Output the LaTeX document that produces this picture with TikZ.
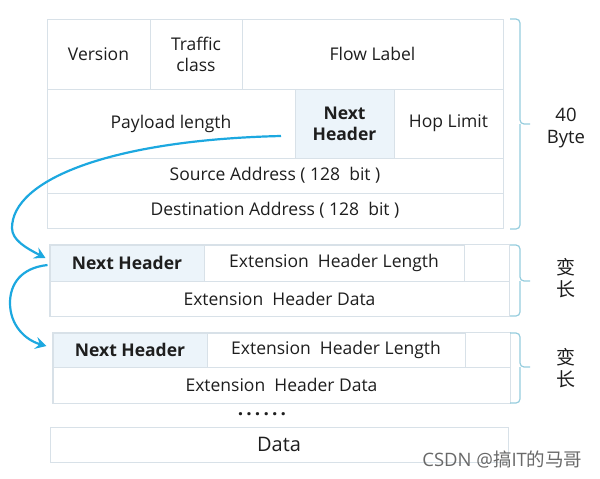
\documentclass[tikz,border=0pt]{standalone}
\usepackage{fontspec}
\setmainfont{Open Sans}
\newfontfamily\cjkfont{Noto Sans CJK SC}
\usetikzlibrary{arrows.meta,positioning,calc}
\definecolor{cellborder}{RGB}{216,225,232}
\definecolor{cellfill}{RGB}{236,244,250}
\definecolor{flowblue}{RGB}{28,168,224}
\definecolor{bracecolor}{RGB}{150,205,222}
\definecolor{textgray}{RGB}{30,30,30}
\definecolor{markgray}{RGB}{105,105,105}

\begin{document}
\begin{tikzpicture}[
    x=1pt, y=-1pt,
    every node/.style={align=center, text=textgray, font=\fontsize{17.5}{21}\selectfont},
    cell/.style={rectangle, draw=cellborder, line width=1pt, inner sep=0pt},
    nextcell/.style={cell, fill=cellfill, font=\fontsize{17.5}{21}\selectfont\bfseries},
    arrow/.style={line width=2.2pt, draw=flowblue, -{Stealth[length=11pt,width=12pt,inset=4pt]}},
    bracket/.style={draw=bracecolor, line width=1.2pt, rounded corners=4pt}
]
\useasboundingbox[fill=white] (0,0) rectangle (600,479);

% IPv6 basic header
\node[cell, minimum width=103pt, minimum height=70pt] (version) at (98.5,54) {Version};
\node[cell, minimum width=92pt, minimum height=70pt] (traffic) at (196,54) {Traffic\\class};
\node[cell, minimum width=261pt, minimum height=70pt] (flow) at (372.5,54) {Flow Label};
\node[cell, minimum width=248pt, minimum height=69pt] (payload) at (171,123.5) {Payload length};
\node[nextcell, minimum width=99pt, minimum height=69pt] (nexthdr) at (344.5,123.5) {Next\\Header};
\node[cell, minimum width=109pt, minimum height=69pt] (hop) at (448.5,123.5) {Hop Limit};
\node[cell, minimum width=456pt, minimum height=35pt] (src) at (275,175.5) {Source Address ( 128~~bit )};
\node[cell, minimum width=456pt, minimum height=35pt] (dst) at (275,210.5) {Destination Address ( 128~~bit )};

% Extension header 1
\node[nextcell, minimum width=154pt, minimum height=36pt] (nh1) at (127,263) {Next Header};
\node[cell, minimum width=260pt, minimum height=36pt] (len1) at (334,263) {Extension~~Header Length};
\node[cell, minimum width=459pt, minimum height=35pt] (data1) at (279.5,298.5) {Extension~~Header Data};
\draw[cellborder, line width=1pt] (nh1.north west) rectangle (data1.south east);

% Extension header 2
\node[nextcell, minimum width=154pt, minimum height=34pt] (nh2) at (130,350) {Next Header};
\node[cell, minimum width=258pt, minimum height=34pt] (len2) at (336,350) {Extension~~Header Length};
\node[cell, minimum width=457pt, minimum height=36pt] (data2) at (281.5,385) {Extension~~Header Data};
\draw[cellborder, line width=1pt] (nh2.north west) rectangle (data2.south east);

% Payload data
\node[font=\fontsize{19}{20}\selectfont\bfseries] (dots) at (262,414) {.\,.\,.\,.\,.\,.};
\node[cell, minimum width=458pt, minimum height=35pt, font=\fontsize{20}{22}\selectfont] (data) at (279,444.5) {Data};

% Braces and lengths
\draw[bracket] (510,19) -- (520,19) -- (520,124) -- (530,124) (520,124) -- (520,229) -- (510,229);
\node[font=\fontsize{18.5}{22}\selectfont] (hdrlen) at (566,128) {40\\Byte};
\draw[bracket] (510,245) -- (520,245) -- (520,281) -- (530,281) (520,281) -- (520,316) -- (510,316);
\node[font=\fontsize{19}{22}\selectfont\cjkfont] (extlen1) at (566,278) {变\\长};
\draw[bracket] (510,333) -- (520,333) -- (520,367) -- (530,367) (520,367) -- (520,403) -- (510,403);
\node[font=\fontsize{19}{22}\selectfont\cjkfont] (extlen2) at (566,368) {变\\长};

% Next header chain
\coordinate (from0) at (281,136);
\coordinate (from1) at ($(nh1.west)+(-2,2)$);
\coordinate (to1) at ($(nh1.west)+(-4,-5)$);
\coordinate (to2) at ($(nh2.west)+(-6,-4)$);
\draw[arrow] (from0) .. controls (110,140) and (12,180) .. (12,228) .. controls (12,240) and (26,248) .. (to1);
\draw[arrow] (from1) .. controls (20,268) and (10,285) .. (10,303) .. controls (10,325) and (25,340) .. (to2);

% Watermark
\node[text=markgray, font=\fontsize{18.5}{20}\selectfont, anchor=east] (mark) at (586,460) {CSDN @{\cjkfont 搞}IT{\cjkfont 的马哥}};

\end{tikzpicture}
\end{document}
